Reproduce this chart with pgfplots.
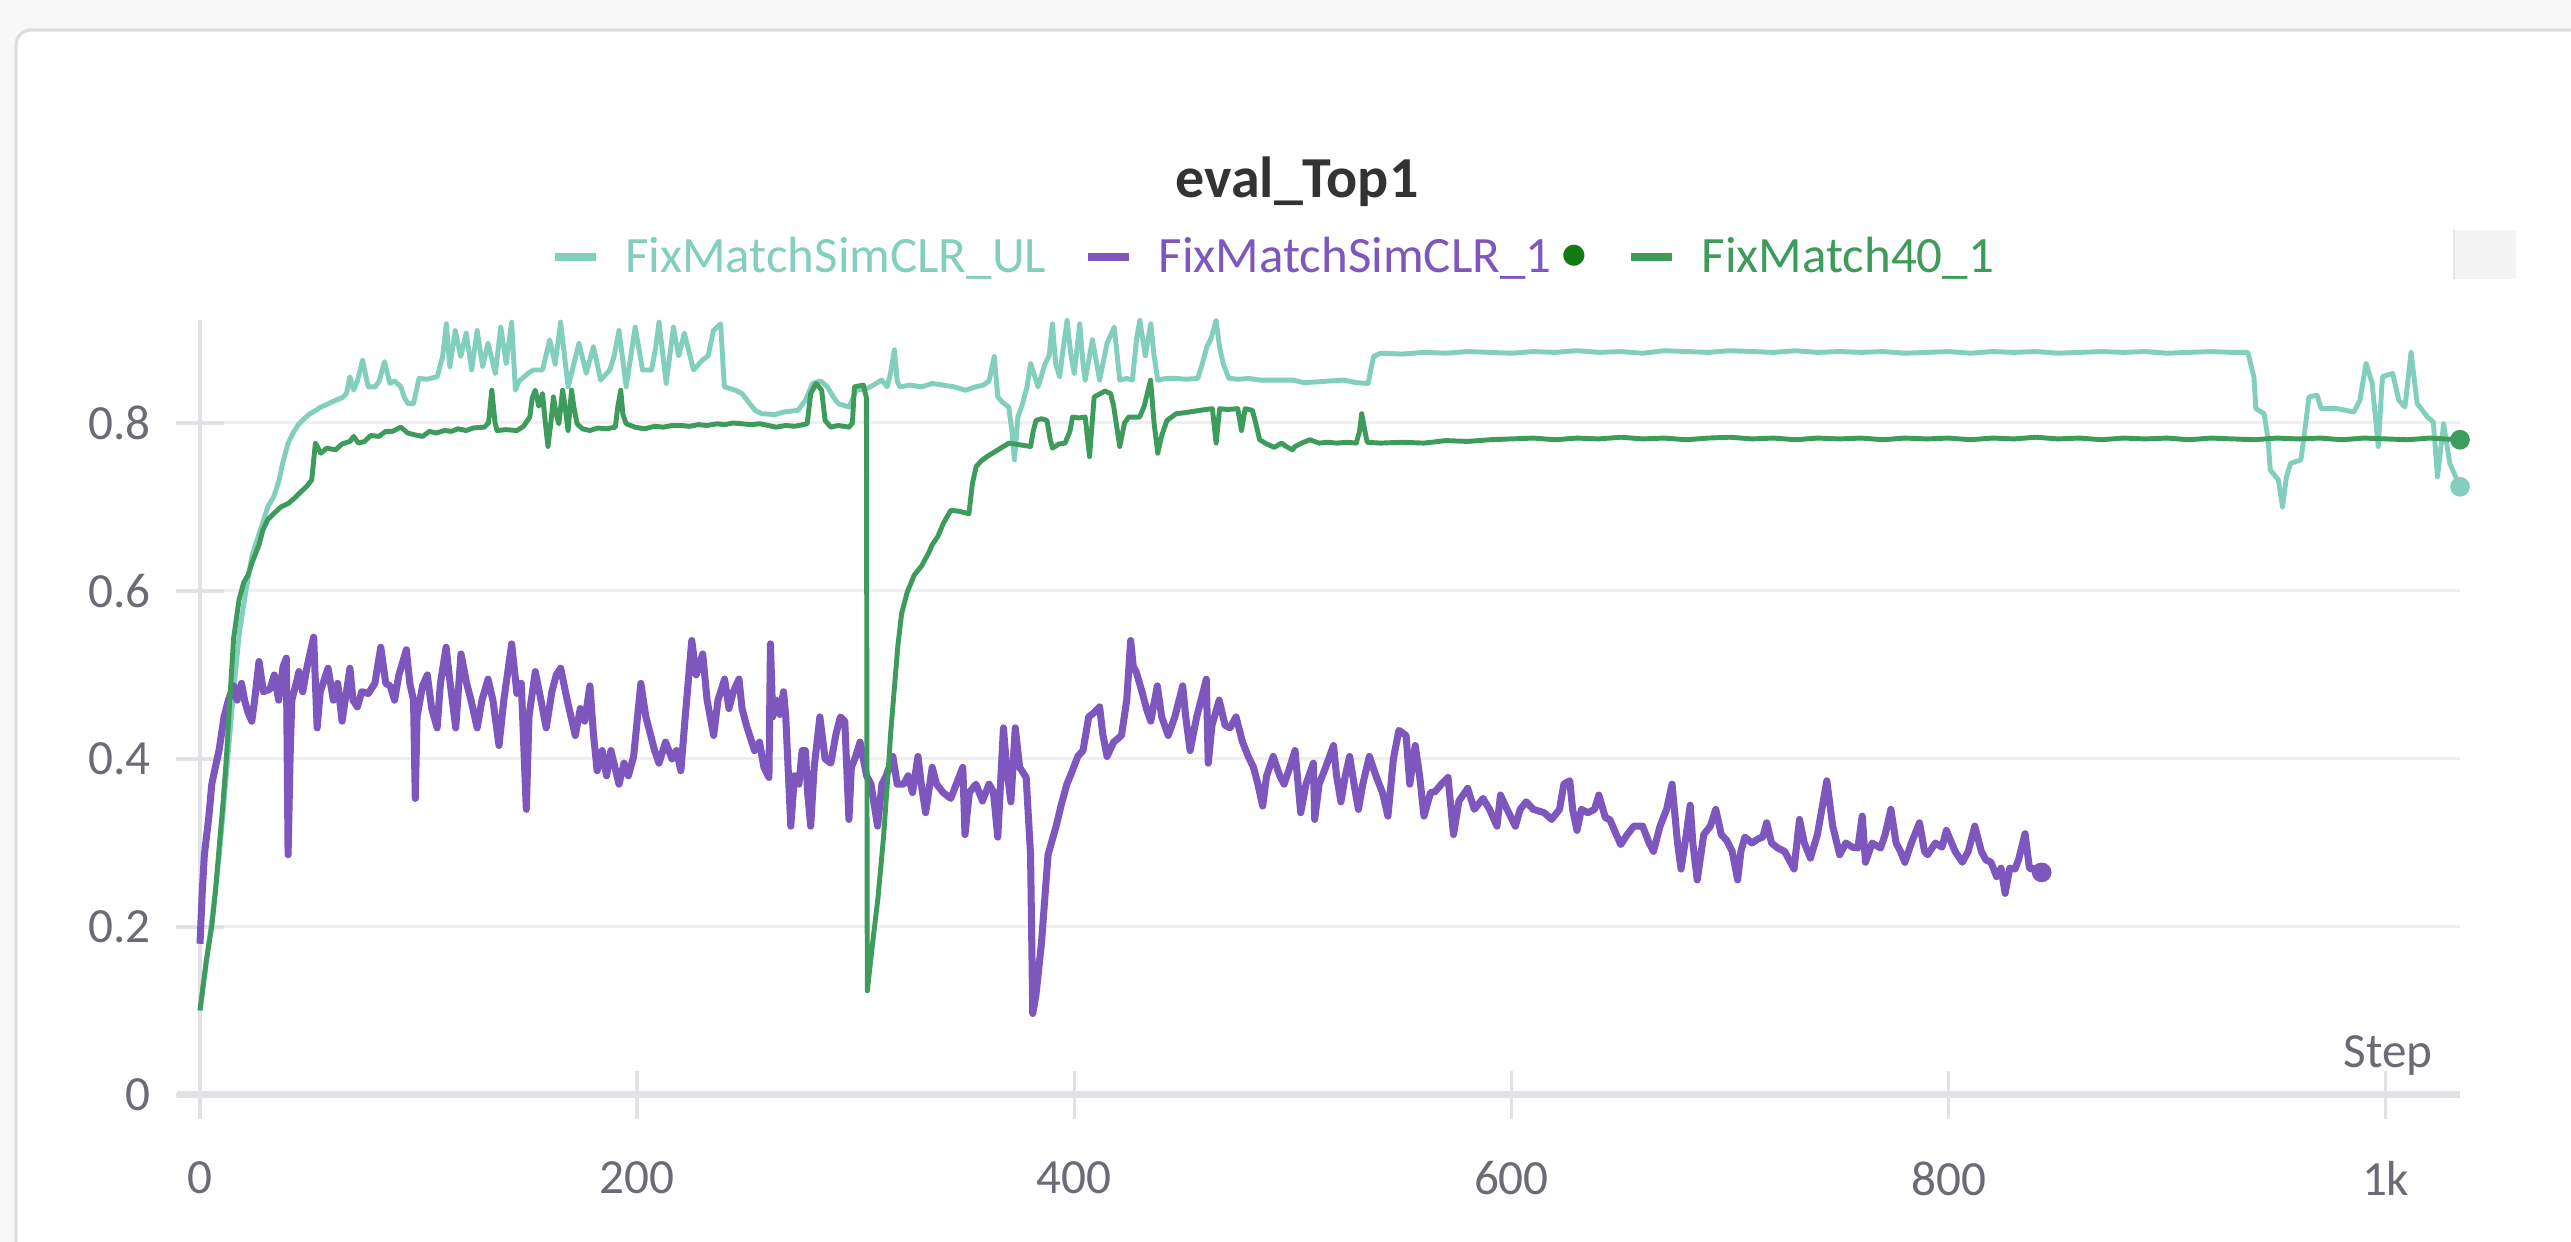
\documentclass[border=0pt]{standalone}
\usepackage{pgfplots}
\pgfplotsset{compat=1.18}
\usepackage{fontspec}
\setmainfont{Carlito}
\definecolor{tealc}{HTML}{82CFBE}
\definecolor{greenc}{HTML}{3D9B5C}
\definecolor{purplec}{HTML}{7E57BE}
\definecolor{dotgreen}{HTML}{127A12}
\definecolor{gridc}{HTML}{EFEFF1}
\definecolor{axisc}{HTML}{E2E2E6}
\definecolor{tickc}{HTML}{6B6B76}
\definecolor{titlec}{HTML}{333333}
\definecolor{bgc}{HTML}{F8F8F8}
\definecolor{borderc}{HTML}{DEDEDE}
\definecolor{boxc}{HTML}{F4F4F4}
\definecolor{boxedge}{HTML}{E6E6E6}
\begin{document}
\begin{tikzpicture}
\useasboundingbox (0,0) rectangle (25.71,12.42);
\fill[bgc] (0,0) rectangle (25.71,12.42);
\draw[borderc, line width=0.9pt, fill=white, rounded corners=0.15cm] (0.16,-1) rectangle (27,12.12);
\begin{axis}[
  at={(2.00cm,1.47cm)}, anchor=south west,
  scale only axis, width=22.60cm, height=7.75cm,
  xmin=0, xmax=1034, ymin=0, ymax=0.9226,
  axis lines=left,
  axis line style={-},
  x axis line style={draw=axisc, line width=2pt, shorten <=-0.23cm},
  y axis line style={draw=axisc, line width=1pt},
  xtick={0,200,400,600,800,1000},
  xticklabels={0,200,400,600,800,1k},
  ytick={0,0.2,0.4,0.6,0.8},
  yticklabels={0,0.2,0.4,0.6,0.8},
  ymajorgrids, grid style={draw=gridc, line width=0.85pt},
  tick align=center, major tick length=0.48cm,
  tick style={draw=axisc, line width=1pt},
  ticklabel style={font=\fontsize{14}{17}\selectfont, text=tickc},
  /pgf/number format/assume math mode=true,
  xticklabel style={yshift=-0.3cm},
  yticklabel style={xshift=-0.13cm},
  clip=false,
  legend columns=3,
  legend cell align=left,
  legend style={at={(0.4745,1.0813)}, anchor=center, draw=none, fill=none,
    font=\fontsize{14.5}{17}\selectfont,
    /tikz/every odd column/.append style={column sep=0.25cm},
    /tikz/every even column/.append style={column sep=0.38cm},
    nodes={inner sep=0pt}},
  legend image code/.code={\draw[#1, line width=2.4pt] (0cm,0cm) -- (0.41cm,0cm);},
]
% FixMatchSimCLR_UL
\addplot[tealc, line width=1.4pt, line join=round] coordinates {
(0,0.10)(3,0.16)(6,0.22)(9,0.29)(12,0.38)(15,0.47)(18,0.55)(21,0.6)(23.7,0.641)(26,0.66)(28.7,0.681)(31,0.70)(33.7,0.712)(36,0.73)(37.8,0.752)(40.3,0.776)(43,0.79)(45.3,0.799)(48,0.806)(50.3,0.811)(53,0.815)(55.3,0.819)(58,0.822)(62,0.827)(65,0.83)(67,0.835)(68.6,0.855)(70.3,0.839)(72,0.85)(74.4,0.875)(76.9,0.843)(80.2,0.843)(82,0.85)(84.4,0.873)(86.9,0.847)(89,0.85)(91.9,0.843)(93.5,0.83)(95.2,0.823)(97.7,0.823)(100.2,0.853)(104,0.852)(108.5,0.855)(111,0.879)(112.7,0.918)(114.3,0.867)(116.8,0.91)(119.3,0.879)(121.8,0.907)(124.3,0.863)(126.8,0.91)(129.3,0.867)(131.8,0.895)(135.1,0.859)(137.6,0.914)(140.1,0.871)(142.6,0.92)(144.3,0.839)(146,0.85)(148.4,0.855)(150.5,0.86)(152.6,0.863)(156.7,0.863)(160,0.899)(162.5,0.87)(165,0.92)(168.4,0.843)(171,0.87)(173.4,0.895)(176.7,0.859)(180,0.891)(183.3,0.851)(187.5,0.863)(189.5,0.88)(191.7,0.91)(195,0.843)(199.1,0.914)(202.5,0.863)(206.6,0.863)(208.5,0.89)(210,0.92)(213.3,0.847)(216.6,0.914)(219,0.88)(221.6,0.907)(225.8,0.863)(229.9,0.875)(232.5,0.88)(234.9,0.91)(238.2,0.918)(239.9,0.843)(244.9,0.839)(248,0.835)(251.5,0.823)(254,0.815)(257,0.811)(263,0.81)(267,0.813)(273.6,0.815)(277,0.827)(280.3,0.847)(284,0.85)(287,0.843)(290,0.83)(292,0.823)(297,0.819)(300.2,0.839)(305.2,0.841)(308,0.845)(311.9,0.851)(314.4,0.843)(316,0.86)(317.7,0.887)(319,0.85)(320.2,0.843)(325,0.845)(330.2,0.843)(335,0.847)(340.1,0.845)(345,0.843)(350.1,0.839)(355,0.843)(358.4,0.845)(361,0.85)(363.4,0.879)(365,0.831)(367,0.825)(370,0.819)(371.5,0.79)(372.6,0.756)(374.2,0.807)(376,0.82)(378.4,0.843)(380,0.871)(383.4,0.843)(386.7,0.871)(388.5,0.88)(390,0.918)(391.5,0.87)(393.3,0.855)(395,0.89)(396.7,0.922)(398.5,0.88)(400,0.859)(402.5,0.918)(404,0.87)(405,0.851)(408.3,0.899)(411.6,0.851)(415,0.895)(418.3,0.914)(420.8,0.851)(424,0.853)(426.6,0.851)(428.5,0.9)(430,0.922)(432.5,0.88)(435,0.918)(436.5,0.88)(438.2,0.851)(442,0.853)(446.6,0.853)(451,0.852)(456.5,0.853)(458.5,0.87)(460.7,0.891)(462.5,0.9)(464.9,0.922)(466.5,0.89)(468.2,0.87)(470.7,0.853)(475,0.852)(479.8,0.853)(485,0.851)(493.1,0.851)(500,0.851)(505,0.848)(511.9,0.849)(517,0.85)(523.5,0.851)(529,0.848)(534.4,0.847)(536.9,0.879)(540.2,0.883)(550,0.882)(560,0.884)(570,0.883)(580,0.885)(590,0.884)(600,0.883)(610,0.885)(620,0.884)(630,0.886)(640,0.884)(650,0.885)(660,0.883)(670,0.886)(680,0.885)(690,0.884)(700,0.886)(710,0.885)(720,0.884)(730,0.886)(740,0.884)(750,0.885)(760,0.884)(770,0.885)(780,0.883)(790,0.884)(800,0.885)(810,0.883)(820,0.885)(830,0.884)(840,0.885)(850,0.883)(860,0.884)(870,0.885)(880,0.884)(890,0.885)(900,0.883)(910,0.884)(920,0.885)(930,0.884)(936.9,0.884)(939.7,0.855)(940.6,0.817)(944.4,0.811)(946.2,0.78)(947.2,0.744)(950.9,0.732)(952.8,0.70)(954.6,0.736)(956.5,0.752)(961.2,0.756)(963,0.791)(964.9,0.831)(968.6,0.833)(970.5,0.817)(978,0.817)(985.4,0.813)(988.2,0.827)(991,0.871)(993.8,0.847)(996.6,0.772)(998.5,0.855)(1003.2,0.859)(1006,0.827)(1008.8,0.819)(1011.6,0.884)(1014.4,0.823)(1019.1,0.807)(1021.8,0.801)(1023.7,0.736)(1026.5,0.799)(1029.3,0.752)(1034,0.724)
};
\addlegendentry{\textcolor{tealc}{FixMatchSimCLR\_UL}}
% FixMatchSimCLR_1
\addplot[purplec, line width=2pt, line join=round] coordinates {
(0,0.18)(1,0.24)(2,0.286)(4,0.33)(5.4,0.37)(7,0.39)(8.7,0.41)(11,0.45)(13,0.47)(15.4,0.487)(17,0.47)(19,0.49)(20.4,0.47)(22,0.455)(23.7,0.445)(25,0.47)(27,0.516)(29,0.48)(32,0.483)(34,0.5)(36,0.47)(38,0.51)(39.5,0.52)(40.3,0.286)(41.2,0.40)(42,0.47)(44,0.49)(45.3,0.504)(47,0.48)(49,0.51)(52,0.545)(53.6,0.437)(55,0.48)(58.6,0.508)(61,0.47)(63,0.49)(65,0.445)(67,0.48)(68.6,0.508)(70,0.47)(72,0.462)(74,0.48)(77,0.478)(80,0.49)(82.7,0.533)(85,0.49)(87,0.487)(89,0.47)(91,0.5)(94.4,0.53)(96,0.49)(97.7,0.47)(98.5,0.353)(99.3,0.45)(101.8,0.487)(104,0.5)(106,0.46)(108.5,0.437)(110,0.49)(112.6,0.533)(114,0.5)(117,0.437)(119.4,0.525)(122,0.49)(124,0.47)(126.8,0.437)(129,0.47)(131.8,0.495)(134,0.47)(136.8,0.416)(139,0.47)(142.6,0.537)(145,0.478)(147,0.49)(149.3,0.34)(150.5,0.45)(153.4,0.504)(156,0.47)(158.4,0.437)(161,0.48)(163,0.5)(165,0.508)(168,0.47)(171.7,0.428)(174,0.46)(176,0.445)(178.4,0.487)(180,0.43)(181.7,0.386)(184,0.41)(186,0.38)(188,0.41)(191.7,0.37)(194,0.395)(196,0.38)(198.4,0.403)(201.7,0.49)(204,0.45)(206,0.43)(208,0.41)(210,0.395)(213,0.42)(216,0.4)(218,0.41)(220,0.386)(222,0.45)(225,0.541)(227,0.5)(230,0.525)(232,0.47)(235,0.428)(237,0.47)(240,0.495)(242,0.46)(244,0.48)(246.6,0.495)(248,0.46)(250,0.44)(253.7,0.41)(256,0.42)(258,0.39)(260.3,0.378)(261,0.537)(262,0.45)(263.5,0.47)(265.3,0.453)(267,0.48)(268,0.45)(270.3,0.32)(272,0.38)(274,0.37)(275.5,0.41)(277,0.41)(278,0.36)(279.4,0.32)(281,0.39)(283.6,0.45)(286,0.4)(288.6,0.395)(291,0.43)(293,0.45)(295,0.445)(296.9,0.328)(298,0.39)(300,0.403)(302,0.42)(305,0.38)(307,0.37)(310,0.32)(312,0.37)(314,0.38)(317,0.403)(319,0.37)(322,0.37)(324,0.38)(326,0.36)(328.5,0.403)(330,0.37)(332,0.336)(335,0.39)(337,0.37)(340,0.36)(343.5,0.353)(346,0.37)(349,0.39)(350,0.31)(352,0.36)(355,0.37)(358,0.35)(361,0.37)(363,0.361)(365,0.307)(367.6,0.437)(369,0.39)(371,0.349)(373,0.437)(375,0.39)(378,0.378)(380,0.286)(381,0.097)(382.5,0.12)(385,0.181)(388,0.286)(391.7,0.32)(394,0.345)(396.6,0.37)(399,0.385)(401.6,0.403)(404,0.41)(406.6,0.45)(409,0.455)(411.6,0.462)(413,0.43)(415,0.403)(418,0.42)(421.6,0.428)(424,0.47)(425.8,0.541)(427,0.51)(428.3,0.504)(431,0.48)(433,0.46)(435,0.445)(438,0.487)(440,0.45)(443,0.428)(446,0.45)(449.6,0.487)(451,0.45)(453,0.41)(456,0.45)(458,0.47)(460.4,0.495)(461.3,0.395)(463,0.44)(466.3,0.47)(469,0.44)(471.3,0.437)(474,0.45)(477,0.42)(479.6,0.403)(482,0.39)(484,0.37)(486.2,0.344)(488,0.38)(491,0.403)(494,0.38)(496,0.37)(498.6,0.39)(501,0.41)(503.6,0.336)(506,0.37)(509.4,0.395)(510,0.328)(512,0.37)(515,0.39)(518.6,0.416)(520,0.38)(522,0.349)(524,0.38)(526,0.403)(528,0.37)(530,0.34)(532,0.37)(535,0.403)(538,0.38)(541,0.36)(543.5,0.332)(546,0.4)(548.5,0.434)(551.8,0.428)(553.5,0.37)(556,0.416)(558,0.38)(560,0.332)(563,0.36)(565,0.361)(568,0.37)(571,0.378)(573.5,0.31)(576,0.35)(580,0.365)(583,0.34)(587,0.353)(590,0.34)(593.4,0.32)(595,0.357)(598,0.34)(601.8,0.32)(604,0.34)(606.8,0.349)(610,0.34)(615,0.336)(618.4,0.328)(622,0.34)(624,0.37)(626.7,0.374)(628,0.34)(630,0.315)(632,0.34)(635,0.336)(638,0.34)(640,0.357)(643,0.33)(645,0.328)(648,0.31)(650,0.298)(653,0.31)(656,0.32)(660,0.32)(663,0.3)(665,0.29)(668,0.32)(671,0.34)(673.5,0.37)(676,0.3)(677.6,0.269)(680,0.31)(681.8,0.345)(683,0.3)(685,0.256)(688,0.31)(691,0.32)(693.5,0.34)(696,0.31)(698.5,0.303)(701,0.29)(703.5,0.256)(705,0.29)(706.8,0.307)(710,0.3)(713,0.305)(715,0.307)(716.8,0.324)(719,0.3)(721.8,0.294)(725,0.29)(729.3,0.269)(731.8,0.328)(734,0.3)(736.8,0.282)(740,0.31)(744.3,0.374)(747,0.32)(750.2,0.286)(753,0.3)(756,0.295)(758.5,0.294)(760.5,0.332)(762,0.277)(765,0.3)(768.9,0.294)(771,0.31)(773.6,0.34)(776,0.3)(778,0.29)(780,0.277)(783,0.3)(786.7,0.324)(789,0.29)(790.4,0.286)(794,0.3)(797,0.295)(799,0.315)(803,0.29)(806.3,0.277)(809,0.29)(812,0.32)(815,0.29)(817,0.28)(819.4,0.277)(822,0.26)(824,0.27)(825.9,0.24)(828,0.27)(830.4,0.269)(832,0.28)(835,0.311)(837,0.27)(838,0.269)(840,0.27)(842.6,0.265)
};
\addlegendentry{\textcolor{purplec}{FixMatchSimCLR\_1}\hspace{0.08cm}\textcolor{dotgreen}{\fontsize{17}{17}\selectfont\textbullet}}
% FixMatch40_1
\addplot[greenc, line width=1.4pt, line join=round] coordinates {
(0,0.101)(2.9,0.16)(5.4,0.201)(7.1,0.243)(8.7,0.293)(10.4,0.343)(12.1,0.402)(13.7,0.473)(15.4,0.544)(17.9,0.59)(20,0.61)(22,0.619)(24,0.635)(27,0.655)(28.7,0.672)(31,0.685)(33.7,0.692)(37,0.70)(40.3,0.704)(43,0.71)(45.3,0.716)(48.6,0.724)(51.1,0.732)(52.8,0.776)(55.3,0.764)(58,0.77)(62,0.768)(65,0.775)(68.6,0.778)(70.3,0.784)(72.5,0.776)(75.3,0.778)(78,0.785)(81.9,0.784)(85,0.79)(88,0.79)(91.9,0.795)(95,0.788)(98,0.786)(101.9,0.784)(105,0.79)(108,0.788)(111.9,0.791)(115,0.79)(118,0.793)(121.8,0.791)(125,0.794)(130.1,0.795)(132,0.80)(133.5,0.839)(135,0.80)(135.9,0.791)(140,0.792)(145.1,0.791)(148,0.796)(150.9,0.807)(152,0.83)(153.4,0.839)(155,0.82)(156.7,0.835)(158,0.80)(159.2,0.772)(160.5,0.80)(161.7,0.831)(163,0.81)(164.2,0.799)(165.9,0.839)(167,0.82)(168.4,0.791)(170,0.839)(171,0.82)(172.5,0.799)(175,0.793)(178.4,0.791)(182,0.794)(186,0.793)(190,0.795)(191.2,0.82)(192.5,0.839)(193.5,0.81)(195,0.799)(199,0.795)(203.3,0.793)(208,0.796)(212,0.795)(216,0.797)(219.9,0.797)(224,0.796)(228,0.798)(232,0.797)(236.6,0.799)(240,0.798)(244,0.8)(248,0.799)(252,0.798)(256.2,0.799)(260,0.797)(263.6,0.795)(268,0.797)(272,0.796)(277.8,0.799)(279.4,0.835)(281.9,0.847)(284.4,0.839)(286,0.803)(288.6,0.795)(292,0.797)(296.9,0.795)(298.5,0.8)(299.4,0.843)(303.5,0.845)(304.9,0.83)(305.3,0.124)(307.7,0.18)(310.2,0.235)(312.7,0.306)(314.4,0.368)(316,0.431)(317.7,0.485)(319.3,0.535)(321,0.573)(323.5,0.598)(326.8,0.619)(330.2,0.63)(333.5,0.646)(335,0.655)(337.6,0.665)(340,0.68)(343.5,0.696)(347,0.695)(351.8,0.692)(353.4,0.728)(355.1,0.748)(357.5,0.755)(360.1,0.76)(365.1,0.768)(370.1,0.776)(375,0.774)(380,0.772)(381.2,0.79)(382.5,0.803)(385,0.805)(387.5,0.803)(389,0.78)(390,0.77)(393,0.775)(395.8,0.776)(398,0.79)(399.2,0.807)(402,0.806)(405,0.807)(407,0.76)(409.1,0.831)(412,0.835)(414,0.838)(416.6,0.835)(418,0.82)(420.8,0.772)(423,0.8)(424.9,0.807)(429.9,0.807)(432,0.82)(434.9,0.851)(436.5,0.8)(438.2,0.764)(440,0.785)(442.4,0.803)(446.6,0.811)(450,0.812)(455,0.814)(460,0.816)(463.2,0.817)(464.9,0.776)(466.5,0.817)(470,0.816)(474.8,0.817)(476.5,0.791)(478.2,0.817)(481.5,0.815)(483,0.8)(484.8,0.78)(488,0.775)(491.5,0.771)(494.8,0.776)(497,0.772)(499.8,0.768)(501,0.772)(504,0.776)(507.8,0.78)(512,0.776)(516,0.777)(520,0.776)(525,0.777)(529,0.776)(530.5,0.79)(531.5,0.811)(533,0.79)(534,0.777)(540,0.776)(550,0.777)(560,0.776)(570,0.779)(580,0.778)(590,0.78)(600,0.781)(610,0.782)(620,0.78)(630,0.782)(640,0.781)(650,0.783)(660,0.781)(670,0.782)(680,0.78)(690,0.782)(700,0.783)(710,0.781)(720,0.782)(730,0.78)(740,0.782)(750,0.781)(760,0.782)(770,0.78)(780,0.782)(790,0.781)(800,0.782)(810,0.78)(820,0.782)(830,0.781)(840,0.783)(850,0.781)(860,0.782)(870,0.78)(880,0.782)(890,0.781)(900,0.782)(910,0.78)(920,0.782)(930,0.781)(940,0.78)(950,0.782)(960,0.781)(970,0.782)(980,0.78)(990,0.782)(1000,0.781)(1010,0.78)(1020,0.782)(1034,0.78)
};
\addlegendentry{\textcolor{greenc}{FixMatch40\_1}}
% end markers
\addplot[forget plot, only marks, mark=*, mark size=2.6pt, color=tealc] coordinates {(1034,0.724)};
\addplot[forget plot, only marks, mark=*, mark size=2.6pt, color=purplec] coordinates {(842.6,0.265)};
\addplot[forget plot, only marks, mark=*, mark size=2.6pt, color=greenc] coordinates {(1034,0.78)};
\end{axis}
\node[font=\bfseries\fontsize{16.5}{20}\selectfont, text=titlec] at (12.97,10.60) {eval\_Top1};
\node[font=\fontsize{14}{17}\selectfont, text=tickc, anchor=base] at (23.88,1.74) {Step};
\fill[boxc] (24.54,9.63) rectangle (25.16,10.12);
\draw[boxedge, line width=0.6pt] (24.54,9.63) -- (24.54,10.12);
\end{tikzpicture}
\end{document}
